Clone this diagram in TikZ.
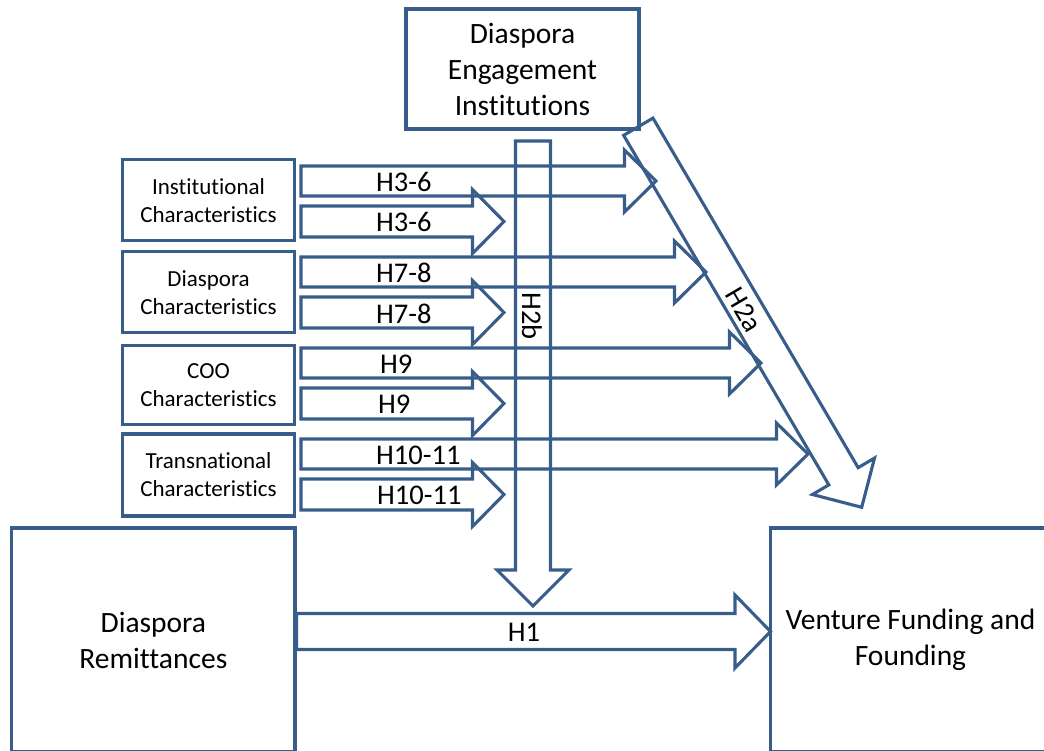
\documentclass[tikz,border=0pt]{standalone}
\usepackage{fontspec}
\setmainfont[Ligatures=NoCommon]{Carlito}
\usetikzlibrary{calc}
\definecolor{edge}{HTML}{385D8A}
\tikzset{
  box/.style={draw=edge, line width=3.1pt, fill=white, align=center, inner sep=0pt},
  bigtxt/.style={font=\fontsize{29.5}{36}\selectfont},
  smalltxt/.style={font=\fontsize{23}{28}\selectfont},
  lbl/.style={font=\fontsize{28.5}{34}\selectfont, inner sep=0pt},
  fat/.style={draw=edge, line width=3.1pt, line join=miter},
}
% #1 start, #2 tip, #3 shaft half width, #4 head half width, #5 head length
\newcommand\fatarrow[5]{%
  \coordinate (fab) at ($(#2)!#5!(#1)$);
  \draw[fat] ($(#1)!#3!90:(#2)$) -- ($(fab)!#3!90:(#2)$) -- ($(fab)!#4!90:(#2)$)
    -- (#2) -- ($(fab)!#4!-90:(#2)$) -- ($(fab)!#3!-90:(#2)$)
    -- ($(#1)!#3!-90:(#2)$) -- cycle;
}
\begin{document}
\begin{tikzpicture}[x=1pt,y=-1pt]
\useasboundingbox (0,0) rectangle (1044,750);
\clip (0,0) rectangle (1044,750);

% boxes
\node[box, bigtxt, minimum width=233pt, minimum height=120pt] (dei) at (522.5,69) {Diaspora\\Engagement\\Institutions};
\node[box, smalltxt, minimum width=171.6pt, minimum height=81pt] (inst) at (208.5,200.3) {Institutional\\Characteristics};
\node[box, smalltxt, minimum width=171.6pt, minimum height=81pt] (dias) at (208.5,292.2) {Diaspora\\Characteristics};
\node[box, smalltxt, minimum width=171.6pt, minimum height=79pt] (coo) at (208.5,385.2) {COO\\Characteristics};
\node[box, smalltxt, minimum width=171.6pt, minimum height=82pt] (trans) at (208.5,475) {Transnational\\Characteristics};
\node[box, bigtxt, minimum width=283.3pt, minimum height=224pt] (rem) at (153.35,640) {Diaspora\\Remittances};
\node[box, bigtxt, minimum width=279.3pt, minimum height=224pt] (vff) at (910.5,640) {Venture Funding and\\Founding};

% arrow end points
\coordinate (s1) at (301,181);   \coordinate (t1) at (656,181);
\coordinate (s2) at (301,272);   \coordinate (t2) at (706,272);
\coordinate (s3) at (301,363);   \coordinate (t3) at (761,363);
\coordinate (s4) at (301,454);   \coordinate (t4) at (808,454);
\coordinate (u1) at (301,221.5); \coordinate (v1) at (504,221.5);
\coordinate (u2) at (301,312.5); \coordinate (v2) at (504,312.5);
\coordinate (u3) at (301,403.5); \coordinate (v3) at (504,403.5);
\coordinate (u4) at (301,494.5); \coordinate (v4) at (504,494.5);
\coordinate (b2s) at (533,141);   \coordinate (b2t) at (533,606);
\coordinate (a2s) at (638.3,126.7); \coordinate (a2t) at (861.7,507.3);
\coordinate (h1t) at (770.5,631.5);

% block arrows
\fatarrow{s1}{t1}{15pt}{31pt}{31.5pt}
\fatarrow{s2}{t2}{15pt}{31pt}{31.5pt}
\fatarrow{s3}{t3}{15pt}{31pt}{31.5pt}
\fatarrow{s4}{t4}{15pt}{31pt}{31.5pt}
\fatarrow{u1}{v1}{15.5pt}{32pt}{31.5pt}
\fatarrow{u2}{v2}{15.5pt}{32pt}{31.5pt}
\fatarrow{u3}{v3}{15.5pt}{32pt}{31.5pt}
\fatarrow{u4}{v4}{15.5pt}{32pt}{31.5pt}
\fatarrow{b2s}{b2t}{17.5pt}{36pt}{36pt}
\fatarrow{a2s}{a2t}{17pt}{36pt}{36pt}
\fatarrow{rem.east |- h1t}{h1t}{18pt}{36.5pt}{35.5pt}

% labels
\node[lbl, anchor=west] (l1) at (376,182) {H3-6};
\node[lbl, anchor=west] (l2) at (376,222) {H3-6};
\node[lbl, anchor=west] (l3) at (376,273) {H7-8};
\node[lbl, anchor=west] (l4) at (376,313.5) {H7-8};
\node[lbl, anchor=west] (l5) at (380,364) {H9};
\node[lbl, anchor=west] (l6) at (378,404.5) {H9};
\node[lbl, anchor=west] (l7) at (376,455) {H10-11};
\node[lbl, anchor=west] (l8) at (377,495.5) {H10-11};
\node[lbl, rotate=-90] (l9) at (532,316) {H2b};
\node[lbl, rotate=-59.6] (l10) at (743.5,310) {H2a};
\node[lbl] (l11) at (524,632) {H1};
\end{tikzpicture}
\end{document}
